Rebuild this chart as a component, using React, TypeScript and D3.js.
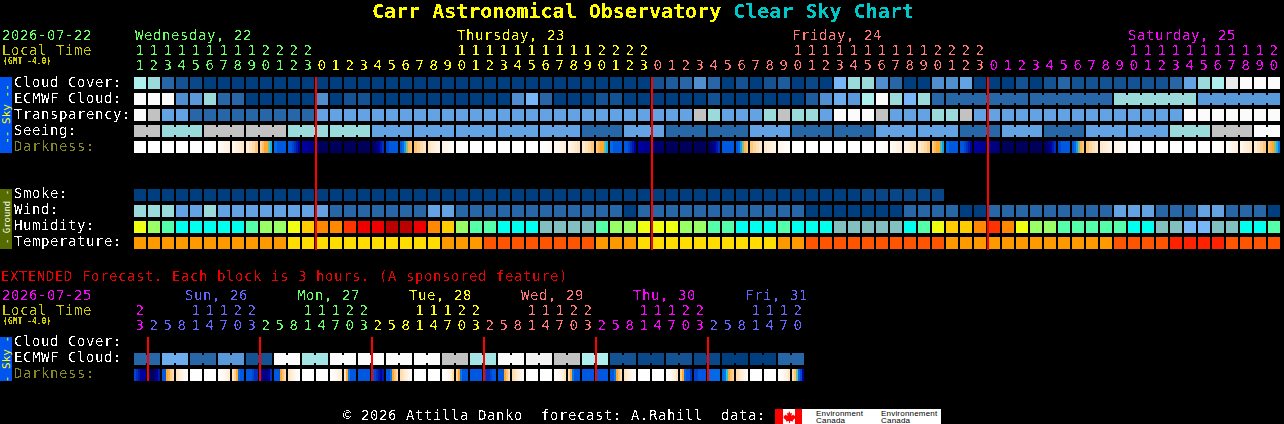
import React from "react";
import * as d3 from "d3";

// ---------- data ----------
const cloudLevels = [7,6,2,1,0.5,0,0,0,0,0,0,0,0, 0,0,0,0,0,0,0,0, 0,0,0,0,0,0,0,0,0,0,0,0,0,0,0,0,
  1,1.5,2,3,2,0,1,0,1,1.5,0,0.5,0,5,6,
  6,3,2,0,0,3,3,4,0,0,0,1,0,1,2,1,1,1,1,1,1,1,2,4,6,7,9,10,10,10];
const ecmwfLevels = [10,10,10,3,3.5,6,2,2,0,0,0,0,0, 3,0,1,1,0,0,0,0, 0,0,0,0,0,0,3,5,2,0,0,0,1,1,0,0,
  0,0,0,0,1,0,0,0,0,0,0,1.5,3,4.5,3.5,
  7,10,6,5,6,2, 2,2,6,3.5];
const ecmwfSpans = [...Array(58).fill(1), 6, 6, 6, 6];
const transparencyLevels = [10,8,4,4,2,2,2,2,2,2,2,2,2, 4,4,4,4,4,4,4,4, 4,4,4,4,4,4,4,4,4,4,4,4,4,4,4,4,
  4,4,4,8,6,4,4,4,6,8,6,6,4,10,10,
  10,8,4,4,4,6,6,8,4,4,4,4,4,4,4,4,4,4,4,4,4,4,4,10,10,10,10,10,10,10];
const seeingLevels = [8,6,8,8,6,6,4,4,4,4,4,2,4,2,2,4,2,2,4,4,2,4,2,4,4,6,8,10];
const seeingSpans = [2,...Array(26).fill(3),2];
const smokeLevels = [...Array(52).fill(0), 0.4,0.4,0.4,0.4,0.4,0.4];
const windLevels = [6,6,6,4,4,6,4,4,4,4,4,4,4, 4,2,2,2,2,2,2,2, 4,4,2,2,2,2,2,2,2,2,2,2,2,2,0,2,
  2,2,2,2,2,2,2,2,2,2,2,0,0,0,0,
  0,0,0,2,2,2,2,0,0,2,2,2,2,2,2,2,2,2,4,4,4,2,2,2,4,4,2,2,2,0];
const humidityLevels = [5,6,7,8,8,8,8,8,7,6,6,5,4, 3,3,2,1,1,0,0,1, 3,4,6,7,7,8,8,8,9,9,9,9,7,6,6,5,
  5,5,6,6,7,7,8,8,8,7,8,8,8,9,9,
  9,9,9,8,7,5,4,4,3,2,3,5,6,6,7,7,7,7,7,8,8,9,9,10,10,9,9,8,8,7];
const temperatureLevels = [2,2,2,2,2,2,2,2,2,2,2,3,3, 3,3,3,3,3,3,3,3, 3,2,2,2,1,1,1,1,1,1,1,1,2,2,2,3,
  3,3,3,3,3,3,3,3,3,2,2,1,1,1,1,
  1,1,1,1,1,1,2,2,2,2,2,2,2,2,2,2,2,2,1,1,1,1,0,0,0,0,1,1,1,1];
const darknessMain: (number | number[])[] = [0,0,0,0,0,[0,0,.2,.5],[.5,.8,1.2,1.5],[1,1.5,2,2.3],[2,2.5,3,3.8],[3.5,4.2,5,5,5.7,6.3],
  [7.5,8,8,8],[8,8,8.5,9,9.5,10],[10,10,10.5,11],[11.5,12,12,12],12,12,12,[12,11.5,11,10,9.5,9],[8.5,8,8,8],[8,7.5,6.5,5.5,4.5,4],
  [4,3.5,3,2.5],[2.5,2,1.5,1.2],[1.2,1,.7,.5],[.3,.2,.1,0],0,0,0,0,0,[0,.2,.4,.6],[.7,1,1.3,1.6],[1.2,1.7,2.2,2.6],[2.2,2.7,3.2,3.8],
  [3.8,4.5,5,5,5.8,6.3],[7.5,8,8,8],[8,8,8.5,9,9.5,10],[10,10,10.5,10.5],[11,11.5,11.5,11.5],12,12,12,[12,11.5,11,10,9.5,9],8,
  [8,7.5,6.5,5.5,4.5,4],[3.8,3.3,2.8,2.4],[2.3,2,1.6,1.3],[1,.8,.5,.3],0,0,0,0,0,0,[0,.2,.4,.6],[.6,1,1.3,1.6],[1.4,1.8,2.2,2.5],
  [2.2,2.7,3.2,3.8],[3.8,4.5,5,5,5.8,6.5],[7.5,8,8,8],[8,8,8.5,9,9.5,10],[10,10,10.5,10.5],[10.5,11,11,11.5],12,12,12,
  [12,11.5,11,10,9.5,9],[8.5,8,8,8],[8,7.5,6.5,5.5,4.5,4],[3.8,3.3,2.8,2.4],[2.3,2,1.6,1.3],[1.2,1,.7,.5],[.3,.2,.1,0],0,0,0,0,0,
  [0,.1,.3,.5],[.5,.8,1.2,1.5],[1,1.5,2,2.3],[2,2.6,3.2,3.8],[4,4.6,5,5.5,6.2,7]];
const hoursMain = [11,12,13,14,15,16,17,18,19,20,21,22,23,
  0,1,2,3,4,5,6,7,8,9,10,11,12,13,14,15,16,17,18,19,20,21,22,23,
  0,1,2,3,4,5,6,7,8,9,10,11,12,13,14,15,16,17,18,19,20,21,22,23,
  0,1,2,3,4,5,6,7,8,9,10,11,12,13,14,15,16,17,18,19,20];
const daysMain = ["green","yellow","salmon","magenta"];
const daySpansMain = [13,24,24,21];
const dayTitlesMain = [["Wednesday, 22",135],["Thursday, 23",457],["Friday, 24",792],["Saturday, 25",1128]] as [string, number][];

const ecmwfExt = [2,4.5,2,3.5,1,10,6.5,10,10,10,10,8,6.5,10,9.5,8,7,1,0.5,1,0.5,0,0,2];
const spansExt = Array(24).fill(2);
const darknessExt: (number | number[])[] = [[8.5,9,9.5,10,10,10],[12,12,12,11,10.5,9.5],[8,8,5,4.5,3.5,3],[2.5,2,1.5,1,.5,.3],0,0,
  [0,.3,.6,1,1.5,2],[2.5,3.5,5,7.5,8,8],[8,8,8,8.5,9,9],[10,10.5,11,11,10,9],[8,8,8,5,4,3],[2.5,2,1.5,1,.5,.2],0,0,
  [0,.3,.6,1,1.5,2],[2.5,5,7,8,8,8],8,[8,8.5,9,9.5,10,9.5],[8,8,7,5,4,3],[3,2.5,2,1.5,1,.5],0,0,
  [0,.3,.7,1.2,1.8,3],[3.5,5,7,8,8,8],8,[8.5,9,9,8.5,8,8],[8,8,8,5,4,3],[3,2.5,2,1.5,1,.5],0,0,
  [0,.3,.7,1.2,1.8,2.5],[3,5,7,8,8,8],8,8,[8,8,7,5,4,3],[2.5,2,1.5,1,.5,.3],0,0,
  [0,.3,.7,1.2,1.8,2.5],[3.5,5,7.5,8,8,9],[8.5,8.5,8,8,8,8],7.5,[7.5,7,6,4.8,4,3.5],[3,2.5,2,1.5,1,.5],0,0,
  [0,.3,.7,1.2,1.8,2.5],[3,4,5.7,7.5,8.5,10]];
const hoursExt = [23,2,5,8,11,14,17,20,23,2,5,8,11,14,17,20,23,2,5,8,11,14,17,20,23,2,5,8,11,14,17,20,23,2,5,8,11,14,17,20,23,2,5,8,11,14,17,20];
const daysExt = ["magenta","blue","green","yellow","salmon","magenta","blue"];
const daySpansExt = [1,8,8,8,8,8,7];
const dayTitlesExt = [["Sun, 26",185,"blue"],["Mon, 27",297,"green"],["Tue, 28",409,"yellow"],["Wed, 29",521,"salmon"],["Thu, 30",633,"magenta"],["Fri, 31",745,"blue"]] as [string, number, string][];

const skyPalette = ["#003f7f","#135393","#2767a7","#4f8fcf","#63a3e3","#77b7f7","#9adada","#aeeeee","#c2c2c2","#eaeaea","#fbfbfb"];
const humidityPalette = ["#bb0000","#ee0000","#ff3300","#ff8800","#ffcc00","#eeff11","#99ff66","#55ffaa","#00ffee","#82c0c0","#77b7f7"];
const temperaturePalette = ["#ff2200","#ff5500","#ff9900","#ffdd00"];
const darknessPalette = ["#ffffff","#fff6ec","#ffecd4","#ffdcae","#ffc470","#ffa830","#20c8e0","#0a78e8","#0058e0","#0030c0","#0000a0","#000080","#00005a"];
const dayColors: Record<string, string> = { green: "#66ff66", yellow: "#ffff00", salmon: "#ff7777", magenta: "#ff00ff", blue: "#6666ff" };

// ---------- scales ----------
const X0 = 134, STEP = 14, W = 12, H = 12;
const skyColor = d3.scaleLinear<string>().domain(d3.range(11)).range(skyPalette).interpolate(d3.interpolateRgb);
const darkColor = d3.scaleLinear<string>().domain(d3.range(13)).range(darknessPalette).interpolate(d3.interpolateRgb);
const humColor = d3.scaleOrdinal<number, string>().domain(d3.range(11)).range(humidityPalette);
const tempColor = d3.scaleOrdinal<number, string>().domain(d3.range(4)).range(temperaturePalette);
const xMain = d3.scaleLinear().domain([0, 1]).range([X0, X0 + STEP]);

function Row({ levels, spans, y, color }: { levels: number[]; spans?: number[]; y: number; color: (v: number) => string }) {
  const sp = spans ?? levels.map(() => 1);
  const out: React.ReactNode[] = [];
  let col = 0;
  sp.forEach((s, i) => {
    const c = color(levels[i]);
    for (let k = 0; k < s; k++) {
      const x = xMain(col + k);
      out.push(<rect key={`${i}-${k}`} x={x} y={y} width={W} height={H} fill={c} />);
      if (k < s - 1) out.push(<rect key={`j${i}-${k}`} x={x + W} y={y + 2} width={STEP - W} height={H - 4} fill={c} />);
    }
    col += s;
  });
  return <g shapeRendering="crispEdges">{out}</g>;
}

function DarkRow({ cells, y }: { cells: (number | number[])[]; y: number }) {
  return (
    <g shapeRendering="crispEdges">
      {cells.map((cell, i) => {
        const samples = Array.isArray(cell) ? cell : [cell];
        const sw = W / samples.length;
        return samples.map((v, j) => (
          <rect key={`${i}-${j}`} x={xMain(i) + j * sw} y={y} width={sw} height={H} fill={darkColor(v)} />
        ));
      })}
    </g>
  );
}

function hourColors(days: string[], spans: number[]) {
  const out: string[] = [];
  days.forEach((d, i) => { for (let k = 0; k < spans[i]; k++) out.push(dayColors[d]); });
  return out;
}

function Hours({ hours, colors, yTens, yUnits }: { hours: number[]; colors: string[]; yTens: number; yUnits: number }) {
  return (
    <g textAnchor="middle" fontSize={14}>
      {hours.map((h, i) => (
        <g key={i} fill={colors[i]}>
          {h >= 10 && <text x={xMain(i) + 6} y={yTens}>{Math.floor(h / 10)}</text>}
          <text x={xMain(i) + 6} y={yUnits}>{h % 10}</text>
        </g>
      ))}
    </g>
  );
}

function Tab({ y, h, bg, fg, text, size, cy }: { y: number; h: number; bg: string; fg: string; text: string; size: number; cy: number }) {
  return (
    <g>
      <rect x={0} y={y} width={12} height={h} fill={bg} shapeRendering="crispEdges" />
      <text transform={`translate(10,${cy}) rotate(-90)`} textAnchor="middle" fill={fg} fontSize={size}>{text}</text>
    </g>
  );
}

const LABEL = "#ffffff", DARKLABEL = "#888822";
const mainLabels = [["Cloud Cover:", 87, LABEL], ["ECMWF Cloud:", 103, LABEL], ["Transparency:", 119, LABEL], ["Seeing:", 135, LABEL], ["Darkness:", 151, DARKLABEL],
  ["Smoke:", 198, LABEL], ["Wind:", 214, LABEL], ["Humidity:", 230, LABEL], ["Temperature:", 246, LABEL],
  ["Cloud Cover:", 346, LABEL], ["ECMWF Cloud:", 362, LABEL], ["Darkness:", 378, DARKLABEL]] as [string, number, string][];

const mainLines = [13, 37, 61];
const extLines = [1, 9, 17, 25, 33, 41];

export default function App() {
  React.useEffect(() => {
    document.body.style.margin = "0";
    document.body.style.background = "#000";
  }, []);
  const mono = "'DejaVu Sans Mono', monospace";
  return (
    <svg width={1284} height={424} style={{ display: "block", background: "#000", position: "absolute", left: 0, top: 0 }} fontFamily={mono}>
      <defs>
        <filter id="pix" x={0} y={0} width={1284} height={424} filterUnits="userSpaceOnUse" colorInterpolationFilters="sRGB">
          <feComponentTransfer>
            <feFuncA type="discrete" tableValues="0 0 0 0 0 1 1 1 1" />
          </feComponentTransfer>
        </filter>
        <filter id="pix2" x={0} y={0} width={1284} height={424} filterUnits="userSpaceOnUse" colorInterpolationFilters="sRGB">
          <feComponentTransfer>
            <feFuncA type="discrete" tableValues="0 1" />
          </feComponentTransfer>
        </filter>
      </defs>

      {/* main chart rows */}
      <Row levels={cloudLevels} y={77} color={skyColor} />
      <Row levels={ecmwfLevels} spans={ecmwfSpans} y={93} color={skyColor} />
      <Row levels={transparencyLevels} y={109} color={skyColor} />
      <Row levels={seeingLevels} spans={seeingSpans} y={125} color={skyColor} />
      <DarkRow cells={darknessMain} y={141} />
      <Row levels={smokeLevels} y={189} color={skyColor} />
      <Row levels={windLevels} y={205} color={skyColor} />
      <Row levels={humidityLevels} y={221} color={(v) => humColor(v)} />
      <Row levels={temperatureLevels} y={237} color={(v) => tempColor(v)} />

      {/* extended rows */}
      <Row levels={ecmwfExt} spans={spansExt} y={353} color={skyColor} />
      <DarkRow cells={darknessExt} y={369} />

      {/* day separators */}
      <g fill="#ff0000" shapeRendering="crispEdges">
        {mainLines.map((c) => <rect key={c} x={xMain(c) - 1} y={77} width={2} height={173} />)}
        {extLines.map((c) => <rect key={c} x={xMain(c) - 1} y={337} width={2} height={44} />)}
      </g>

      <text x={372} y={18} fontSize={20} fontWeight="bold" fill="#ffff00" xmlSpace="preserve" filter="url(#pix2)">Carr Astronomical Observatory <tspan fill="#00c8c8">Clear Sky Chart</tspan></text>
      <g filter="url(#pix2)" fontSize={8} fontWeight="bold" fill="#cccc00">
        <text x={3} y={64}>(GMT -4.0)</text>
        <text x={3} y={324}>(GMT -4.0)</text>
      </g>

      <g filter="url(#pix)" fontSize={14} letterSpacing={0.57}>
        <text x={2} y={40} fill="#66ff66">2026-07-22</text>
        <text x={2} y={55} fill="#cccc00">Local Time</text>
        {dayTitlesMain.map(([t, x], i) => <text key={t} x={x} y={40} fill={dayColors[daysMain[i]]}>{t}</text>)}
        <Hours hours={hoursMain} colors={hourColors(daysMain, daySpansMain)} yTens={55} yUnits={70} />

        {mainLabels.map(([t, y, c]) => <text key={t + y} x={14} y={y} fill={c}>{t}</text>)}

        <text x={1} y={281} fill="#ee0000">EXTENDED Forecast. Each block is 3 hours. (A sponsored feature)</text>
        <text x={2} y={300} fill="#ff00ff">2026-07-25</text>
        <text x={2} y={315} fill="#cccc00">Local Time</text>
        {dayTitlesExt.map(([t, x, c]) => <text key={t} x={x} y={300} fill={dayColors[c]}>{t}</text>)}
        <Hours hours={hoursExt} colors={hourColors(daysExt, daySpansExt)} yTens={315} yUnits={330} />

        <text x={343} y={420} fill="#ffffff" xmlSpace="preserve">© 2026 Attilla Danko  forecast: A.Rahill  data:</text>
      </g>

      <Tab y={77} h={76} bg="#0055ee" fg="#ffff00" text="-- Sky --" size={11} cy={114} />
      <Tab y={189} h={60} bg="#556b00" fg="#ffffff" text="- Ground -" size={9} cy={217} />
      <Tab y={337} h={44} bg="#0055ee" fg="#ffff00" text="- Sky -" size={11} cy={359} />

      {/* data-source logo */}
      <g>
        <rect x={775} y={409} width={166} height={15} fill="#ffffff" shapeRendering="crispEdges" />
        <rect x={775} y={409} width={8} height={15} fill="#ff0000" shapeRendering="crispEdges" />
        <rect x={795} y={409} width={7} height={15} fill="#ff0000" shapeRendering="crispEdges" />
        <path d="M789 411l1.5 2.5 1.5-.7-.6 3.2 2-1.5.6 1.3 1.5-.2-.5 1.7.8.5-3 2.5.3 1.2-3.1-.4v2h-1v-2l-3.1.4.3-1.2-3-2.5.8-.5-.5-1.7 1.5.2.6-1.3 2 1.5-.6-3.2 1.5.7z" fill="#ff0000" />
        <g fontFamily="'Liberation Sans', sans-serif" fontSize={8} letterSpacing={0.2} fill="#000">
          <text x={816} y={416}>Environment</text>
          <text x={816} y={423}>Canada</text>
          <text x={881} y={416}>Environnement</text>
          <text x={881} y={423}>Canada</text>
        </g>
      </g>
    </svg>
  );
}
